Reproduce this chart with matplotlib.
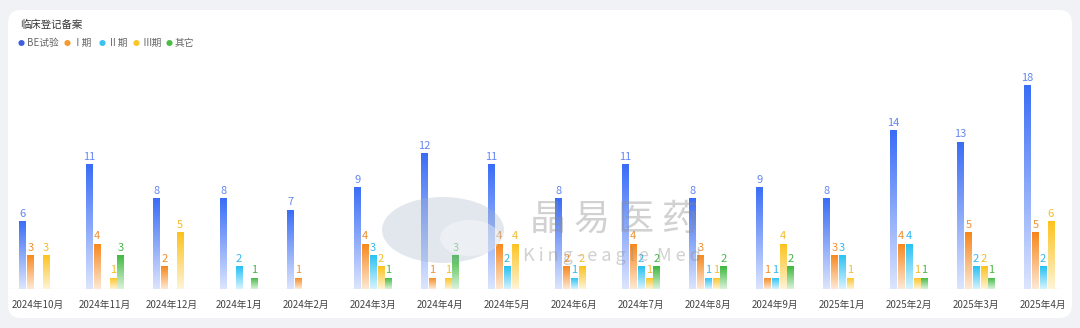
import numpy as np
import matplotlib
matplotlib.use('Agg')
import matplotlib.pyplot as plt
import matplotlib.colors as mcolors
from matplotlib.patches import FancyBboxPatch, Ellipse

plt.rcParams['font.family'] = ['Noto Sans CJK SC', 'DejaVu Sans']

months = ['2024年10月', '2024年11月', '2024年12月', '2024年1月', '2024年2月', '2024年3月',
          '2024年4月', '2024年5月', '2024年6月', '2024年7月', '2024年8月', '2024年9月',
          '2025年1月', '2025年2月', '2025年3月', '2025年4月']
series_names = ['BE试验', 'Ⅰ期', 'Ⅱ期', 'Ⅲ期', '其它']
be_trial = [6, 11, 8, 8, 7, 9, 12, 11, 8, 11, 8, 9, 8, 14, 13, 18]
phase_1 = [3, 4, 2, 0, 1, 4, 1, 4, 2, 4, 3, 1, 3, 4, 5, 5]
phase_2 = [0, 0, 0, 2, 0, 3, 0, 2, 1, 2, 1, 1, 3, 4, 2, 2]
phase_3 = [3, 1, 5, 0, 0, 2, 1, 4, 2, 1, 1, 4, 1, 1, 2, 6]
others = [0, 3, 0, 1, 0, 1, 3, 0, 0, 2, 2, 2, 0, 1, 1, 0]

all_series = [be_trial, phase_1, phase_2, phase_3, others]
bar_colors = ['#3a6df6', '#f7861a', '#25c0f4', '#fcc21c', '#3cb83c']
text_colors = ['#6486f2', '#f0902e', '#33b8ee', '#f4bc2a', '#45b545']
dot_colors = ['#3f5fe0', '#f59a2c', '#3cc2f2', '#f8c52a', '#4cbd44']

W, H = 1080, 328


def gradient(color):
    c = np.array(mcolors.to_rgb(color))
    t = np.linspace(0, 1, 64)[:, None]
    light = c + (1 - c) * 0.82
    rgb = light[None, :] * (1 - t) + c[None, :] * t
    return rgb[:, None, :]


fig = plt.figure(figsize=(10.8, 3.28), dpi=100)
fig.patch.set_facecolor('#f0f2f5')

card = FancyBboxPatch((8 / W, 10 / H), 1064 / W, 308 / H,
                      boxstyle='round,pad=0,rounding_size=0.012',
                      transform=fig.transFigure, facecolor='white', edgecolor='none',
                      mutation_aspect=W / H, zorder=-10)
fig.patches.append(card)

fig.text(20 / W, 1 - 25 / H, '临床登记备案', fontsize=7.5, color='#333333', va='center')

legend_x = [21, 67, 102, 136, 169]
for lx, name, dc in zip(legend_x, series_names, dot_colors):
    fig.text(lx / W, 1 - 43.5 / H, '●', fontsize=5, color=dc, va='center', ha='center')
    fig.text((lx + 6) / W, 1 - 43 / H, name, fontsize=7, color='#666666', va='center')

ax = fig.add_axes([4.5 / W, 39 / H, 1072 / W, 226.7 / H])
ax.set_facecolor('none')
for s in ax.spines.values():
    s.set_visible(False)

x = np.arange(len(months))
slot = 0.115
width = 0.094
for k, (vals, col, tcol) in enumerate(zip(all_series, bar_colors, text_colors)):
    pos = x + (k - 2) * slot
    bars = ax.bar(pos, vals, width=width, color='none', edgecolor='none', zorder=3)
    img = gradient(col)
    for b, v in zip(bars, vals):
        if v == 0:
            continue
        x0 = b.get_x()
        im = ax.imshow(img, extent=[x0, x0 + b.get_width(), 0, v], origin='lower',
                       aspect='auto', zorder=3, interpolation='bilinear')
        im.set_clip_path(b)
        ax.text(x0 + b.get_width() / 2, v + 0.2, str(v), ha='center', va='bottom',
                fontsize=8, color=tcol, zorder=4)

# watermark (semi-transparent, over the bars)
fig.patches.append(Ellipse((443 / W, 1 - 230 / H), 122 / W, 66 / H, transform=fig.transFigure,
                           facecolor='#9fb2c8', alpha=0.3, edgecolor='none', zorder=5))
fig.patches.append(Ellipse((470 / W, 1 - 238 / H), 60 / W, 36 / H, transform=fig.transFigure,
                           facecolor='white', alpha=0.35, edgecolor='none', zorder=5))
for i, ch in enumerate('晶易医药'):
    fig.text((548 + i * 44) / W, 1 - 220 / H, ch, fontsize=26, color='#8c8c8c', alpha=0.4,
             ha='center', va='center', zorder=5)
fig.text(612 / W, 1 - 256 / H, 'K i n g - e a g l e  M e d', fontsize=13, color='#8c8c8c',
         alpha=0.4, ha='center', va='center', zorder=5)

ax.axhline(0, xmin=0.005, xmax=0.985, color='#eeeeee', lw=1, zorder=2)

ax.set_xlim(-0.5, len(months) - 0.5)
ax.set_ylim(0, 20)
ax.set_yticks([])
ax.set_xticks(x)
ax.set_xticklabels(months, fontsize=7, color='#444444')
ax.tick_params(axis='x', length=0, pad=8)

plt.savefig('out.png', dpi=100, facecolor=fig.get_facecolor())
